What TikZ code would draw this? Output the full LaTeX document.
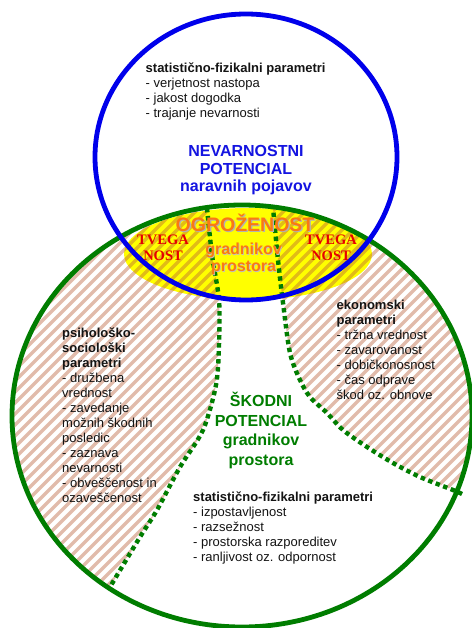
\documentclass[tikz,border=0pt]{standalone}
\usepackage{fontspec}
\setmainfont{Liberation Sans}
\newfontfamily\serifbold{Liberation Serif}
\definecolor{ringblue}{RGB}{0,0,235}
\definecolor{ringgreen}{RGB}{0,125,0}
\definecolor{hatchc}{RGB}{185,95,55}
\definecolor{yel}{RGB}{255,255,0}
\definecolor{orng}{RGB}{250,120,20}
\definecolor{tred}{RGB}{230,0,0}
\definecolor{txtblue}{RGB}{20,20,225}
\definecolor{txtgreen}{RGB}{0,125,0}
\tikzset{
  txt/.style={inner sep=0pt, anchor=base west, text=black!92, font=\fontsize{13}{15}\selectfont},
  bluetxt/.style={inner sep=0pt, anchor=base, text=txtblue, font=\bfseries\fontsize{16}{17.75}\selectfont},
  greentxt/.style={inner sep=0pt, anchor=base, text=txtgreen, font=\bfseries\fontsize{16}{19.5}\selectfont},
  orangebig/.style={inner sep=0pt, anchor=base, font=\bfseries\fontsize{19.5}{22}\selectfont},
  orangesmall/.style={inner sep=0pt, anchor=base, font=\bfseries\fontsize{16}{17}\selectfont},
  redtxt/.style={inner sep=0pt, anchor=base, text=tred, font=\serifbold\bfseries\fontsize{14.5}{16}\selectfont},
  ring/.style={line width=4.8pt},
  dotline/.style={draw=ringgreen, line width=4.4pt, dash pattern=on 4.4pt off 3.6pt},
  stripe/.style={draw=hatchc, draw opacity=0.42, line width=3.4pt}
}
\begin{document}
\begin{tikzpicture}[x=1pt,y=-1pt]
\useasboundingbox (0,0) rectangle (471,628);
\fill[white] (0,0) rectangle (471,628);
% yellow zone
\fill[yel] (248,254) ellipse [x radius=124, y radius=46];
% hatched parts of the green zone
\begin{scope}
  \clip (242,416) ellipse [x radius=230, y radius=211];
  \begin{scope}[even odd rule]
  \clip (0,0) rectangle (471,628)
    plot[smooth] coordinates {(205,190) (207,208) (212,255) (219,300) (219,345) (216,385) (203,430) (180,467) (157,510) (140,537) (110,587) (95,612)}
    -- (95,645) -- (495,645) -- (495,505)
    -- plot[smooth] coordinates {(478,500) (462,494) (453,490) (420,477) (393,463) (367,447) (343,430) (327,413) (310,397) (300,380) (290,353) (283,303) (278,260) (273,208) (272,190)}
    -- cycle;
  \foreach \c in {-660,-649,...,480} {
    \draw[stripe] (\c,660) -- (\c+660,0);
  }
  \end{scope}
\end{scope}
% dotted borders
\draw[dotline] plot[smooth] coordinates {(207,208) (212,255) (219,300) (219,345) (216,385) (203,430) (180,467) (157,510) (140,537) (110,587)};
\draw[dotline] plot[smooth] coordinates {(462,494) (453,490) (420,477) (393,463) (367,447) (343,430) (327,413) (310,397) (300,380) (290,353) (283,303) (278,260) (273,208)};
% rings
\draw[ring, ringgreen] (242,416) ellipse [x radius=230, y radius=211];
\draw[ring, ringblue] (246,157) ellipse [x radius=151, y radius=143];
% texts
\node[txt] (topparams) at (145.5,72.5) {\begin{tabular}[t]{@{}l@{}}\textbf{statistično-fizikalni parametri}\\- verjetnost nastopa\\- jakost dogodka\\- trajanje nevarnosti\end{tabular}};
\node[bluetxt] (nevpot) at (246,156.5) {\begin{tabular}[t]{@{}c@{}}NEVARNOSTNI\\POTENCIAL\\naravnih pojavov\end{tabular}};
\node[orangebig, text=black!30] (ogrshadow) at (246.3,232.8) {OGROŽENOST};
\node[orangebig, text=orng] (ogr) at (245,231.5) {OGROŽENOST};
\node[orangesmall, text=black!25] (gradshadow) at (244.3,255.2) {\begin{tabular}[t]{@{}c@{}}gradnikov\\prostora\end{tabular}};
\node[orangesmall, text=orng] (grad) at (243.5,254) {\begin{tabular}[t]{@{}c@{}}gradnikov\\prostora\end{tabular}};
\node[redtxt] (tvegaL) at (163,244) {\begin{tabular}[t]{@{}c@{}}TVEGA\\NOST\end{tabular}};
\node[redtxt] (tvegaR) at (331,244.5) {\begin{tabular}[t]{@{}c@{}}TVEGA\\NOST\end{tabular}};
\node[txt] (psiparams) at (62,337) {\begin{tabular}[t]{@{}l@{}}\textbf{psihološko-}\\\textbf{sociološki}\\\textbf{parametri}\\- družbena\\vrednost\\- zavedanje\\možnih škodnih\\posledic\\- zaznava\\nevarnosti\\- obveščenost in\\ozaveščenost\end{tabular}};
\node[txt] (ekoparams) at (336.5,309.5) {\begin{tabular}[t]{@{}l@{}}\textbf{ekonomski}\\\textbf{parametri}\\- tržna vrednost\\- zavarovanost\\- dobičkonosnost\\- čas odprave\\škod oz. obnove\end{tabular}};
\node[greentxt] (skodpot) at (261,406.5) {\begin{tabular}[t]{@{}c@{}}ŠKODNI\\POTENCIAL\\gradnikov\\prostora\end{tabular}};
\node[txt] (botparams) at (193,501) {\begin{tabular}[t]{@{}l@{}}\textbf{statistično-fizikalni parametri}\\- izpostavljenost\\- razsežnost\\- prostorska razporeditev\\- ranljivost oz. odpornost\end{tabular}};
\end{tikzpicture}
\end{document}
